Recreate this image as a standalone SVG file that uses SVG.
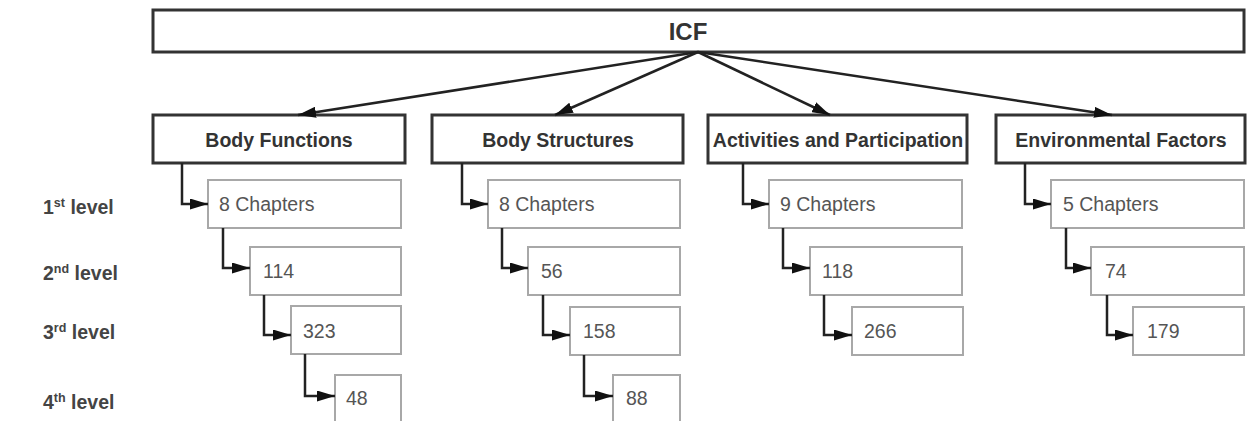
<svg xmlns="http://www.w3.org/2000/svg" width="1247" height="421" viewBox="0 0 1247 421">
<style>
.top{fill:#fff;stroke:#333;stroke-width:3}
.par{fill:#fff;stroke:#333;stroke-width:3}
.chd{fill:#fff;stroke:#a8a8a8;stroke-width:2}
.ptxt{font-family:"Liberation Sans",Arial,sans-serif;font-weight:bold;font-size:19.5px;fill:#333;text-anchor:middle}
.ctxt{font-family:"Liberation Sans",Arial,sans-serif;font-size:19.5px;fill:#555}
.ltxt{font-family:"Liberation Sans",Arial,sans-serif;font-weight:bold;font-size:19.5px;fill:#444}
.con{fill:none;stroke:#222;stroke-width:2.5}
</style>
<defs>
<marker id="ah" viewBox="0 0 18 11" refX="18" refY="5.5" markerWidth="18" markerHeight="11" markerUnits="userSpaceOnUse" orient="auto">
<path d="M0,0 L18,5.5 L0,11 z" fill="#111"/>
</marker>
</defs>
<rect width="1247" height="421" fill="#fff"/>

<g id="icf">
<rect class="top" x="153" y="10" width="1091" height="42"/>
<text class="ptxt" x="688" y="40" style="font-size:24px">ICF</text>
</g>

<g id="levels">
<text class="ltxt" x="43" y="214">1<tspan font-size="12.5" dy="-7">st</tspan><tspan dy="7"> level</tspan></text>
<text class="ltxt" x="43" y="280">2<tspan font-size="12.5" dy="-7">nd</tspan><tspan dy="7"> level</tspan></text>
<text class="ltxt" x="43" y="339">3<tspan font-size="12.5" dy="-7">rd</tspan><tspan dy="7"> level</tspan></text>
<text class="ltxt" x="43" y="409">4<tspan font-size="12.5" dy="-7">th</tspan><tspan dy="7"> level</tspan></text>
</g>

<g id="body-functions">
<rect class="par" x="153" y="115" width="252" height="48"/>
<text class="ptxt" x="279" y="147">Body Functions</text>
</g>
<g id="bf-1"><rect class="chd" x="208" y="180" width="193" height="48"/><text class="ctxt" x="219" y="211">8 Chapters</text></g>
<g id="bf-2"><rect class="chd" x="250" y="247" width="151" height="48"/><text class="ctxt" x="263" y="278">114</text></g>
<g id="bf-3"><rect class="chd" x="291" y="306" width="110" height="48"/><text class="ctxt" x="303" y="338">323</text></g>
<g id="bf-4"><rect class="chd" x="335" y="375" width="66" height="60"/><text class="ctxt" x="346" y="405">48</text></g>

<g id="body-structures">
<rect class="par" x="432" y="115" width="251" height="48"/>
<text class="ptxt" x="558" y="147">Body Structures</text>
</g>
<g id="bs-1"><rect class="chd" x="488" y="180" width="192" height="48"/><text class="ctxt" x="499" y="211">8 Chapters</text></g>
<g id="bs-2"><rect class="chd" x="528" y="247" width="152" height="48"/><text class="ctxt" x="541" y="278">56</text></g>
<g id="bs-3"><rect class="chd" x="570" y="307" width="110" height="48"/><text class="ctxt" x="583" y="338">158</text></g>
<g id="bs-4"><rect class="chd" x="613" y="375" width="67" height="60"/><text class="ctxt" x="626" y="405">88</text></g>

<g id="activities-participation">
<rect class="par" x="708" y="115" width="259" height="48"/>
<text class="ptxt" x="838" y="147">Activities and Participation</text>
</g>
<g id="ap-1"><rect class="chd" x="769" y="180" width="193" height="48"/><text class="ctxt" x="780" y="211">9 Chapters</text></g>
<g id="ap-2"><rect class="chd" x="810" y="247" width="152" height="48"/><text class="ctxt" x="822" y="278">118</text></g>
<g id="ap-3"><rect class="chd" x="852" y="307" width="111" height="48"/><text class="ctxt" x="864" y="338">266</text></g>

<g id="environmental-factors">
<rect class="par" x="996" y="115" width="249" height="48"/>
<text class="ptxt" x="1121" y="147">Environmental Factors</text>
</g>
<g id="ef-1"><rect class="chd" x="1051" y="180" width="193" height="48"/><text class="ctxt" x="1063" y="211">5 Chapters</text></g>
<g id="ef-2"><rect class="chd" x="1091" y="247" width="153" height="48"/><text class="ctxt" x="1105" y="278">74</text></g>
<g id="ef-3"><rect class="chd" x="1133" y="307" width="111" height="48"/><text class="ctxt" x="1147" y="338">179</text></g>

<g id="connectors">
<line class="con" x1="698" y1="52" x2="298" y2="115" marker-end="url(#ah)"/>
<line class="con" x1="698" y1="52" x2="555" y2="115" marker-end="url(#ah)"/>
<line class="con" x1="698" y1="52" x2="830" y2="115" marker-end="url(#ah)"/>
<line class="con" x1="698" y1="52" x2="1112" y2="115" marker-end="url(#ah)"/>

<path class="con" d="M182,163 V204 H208" marker-end="url(#ah)"/>
<path class="con" d="M223,228 V268 H250" marker-end="url(#ah)"/>
<path class="con" d="M264,295 V335 H291" marker-end="url(#ah)"/>
<path class="con" d="M305,354 V396 H335" marker-end="url(#ah)"/>

<path class="con" d="M462,163 V204 H488" marker-end="url(#ah)"/>
<path class="con" d="M502,228 V268 H528" marker-end="url(#ah)"/>
<path class="con" d="M543,295 V335 H570" marker-end="url(#ah)"/>
<path class="con" d="M584,355 V396 H613" marker-end="url(#ah)"/>

<path class="con" d="M743,163 V204 H769" marker-end="url(#ah)"/>
<path class="con" d="M783,228 V268 H810" marker-end="url(#ah)"/>
<path class="con" d="M824,295 V335 H852" marker-end="url(#ah)"/>

<path class="con" d="M1025,163 V204 H1051" marker-end="url(#ah)"/>
<path class="con" d="M1066,228 V268 H1091" marker-end="url(#ah)"/>
<path class="con" d="M1107,295 V335 H1133" marker-end="url(#ah)"/>
</g>
</svg>
